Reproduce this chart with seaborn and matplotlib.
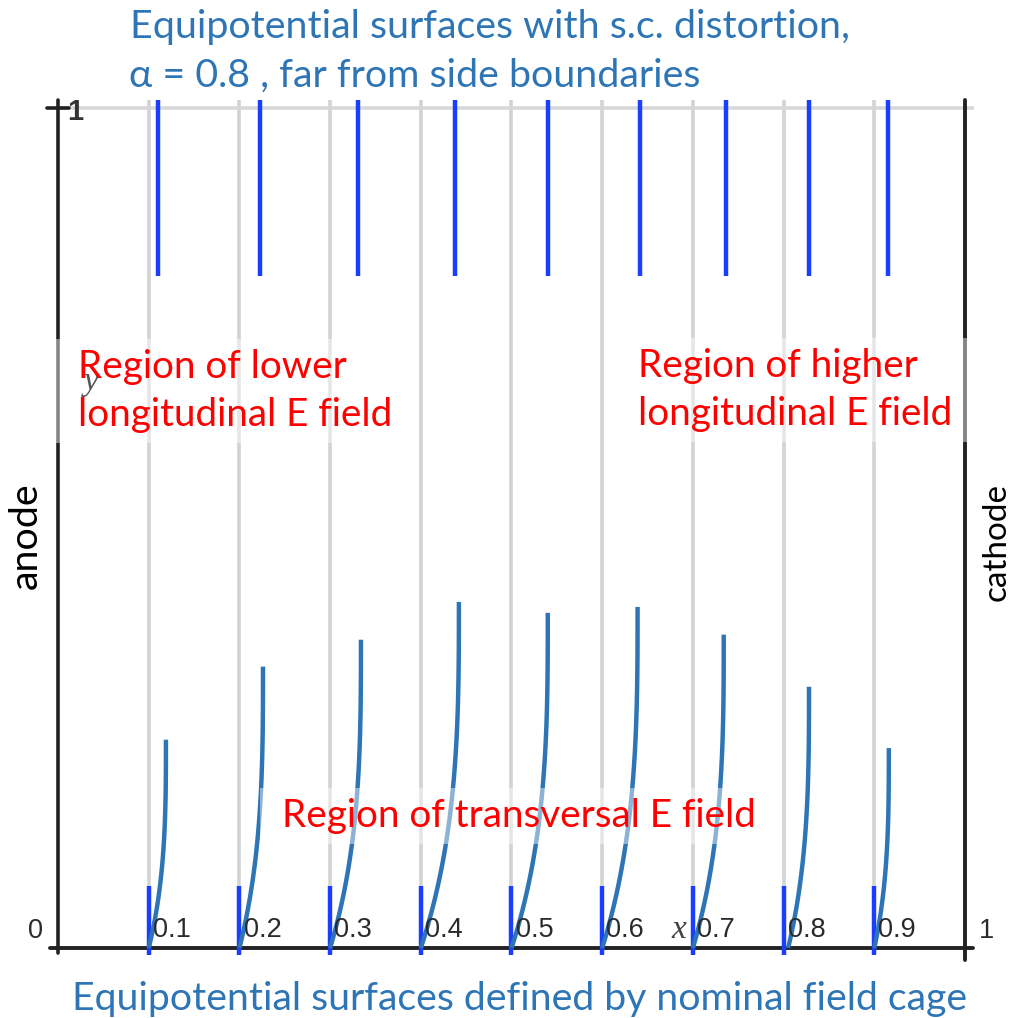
import numpy as np
import pandas as pd
import matplotlib
matplotlib.use("Agg")
import matplotlib.pyplot as plt
from matplotlib.patches import Rectangle
import seaborn as sns

# ---- data -------------------------------------------------------------
# nominal equipotential positions (field cage), drift coordinate x
nominal_x = [0.1, 0.2, 0.3, 0.4, 0.5, 0.6, 0.7, 0.8, 0.9]
nominal_tick_labels = ["0.1", "0.2", "0.3", "0.4", "0.5", "0.6", "0.7", "0.8", "0.9"]
# start of each distorted surface at y = 0
curve_start_x = [0.100, 0.200, 0.300, 0.400, 0.500, 0.600, 0.700, 0.805, 0.900]
# end point of each distorted surface (x, y)
curve_end_x = [0.119, 0.226, 0.334, 0.442, 0.540, 0.639, 0.734, 0.828, 0.916]
curve_end_y = [0.248, 0.335, 0.367, 0.412, 0.399, 0.406, 0.373, 0.311, 0.238]
# distorted surface positions far from the side boundaries (upper region)
distorted_x = [0.110, 0.223, 0.331, 0.438, 0.540, 0.642, 0.736, 0.828, 0.915]
upper_band = (0.80, 1.01)
lower_band = (-0.008, 0.074)

BLUE_BAR = "#1a3dff"
CURVE = "#2e75b6"
TITLE = "#2e75b6"
RED = "#ff0000"

W, H, DPI = 1012, 1018, 100

sns.set_theme(style="white")
plt.rcParams["font.family"] = ["Lato", "DejaVu Sans"]

fig = plt.figure(figsize=(W / DPI, H / DPI), dpi=DPI)
# data x 0..1 -> px 58..965, data y 0..1 -> px 948..108
ax = fig.add_axes([58 / W, (H - 948) / H, 907 / W, 840 / H])
ax.set_xlim(0, 1)
ax.set_ylim(0, 1)
ax.set_axis_off()

# grid
ax.vlines(nominal_x, 0, 1.01, color="#d3d3d3", lw=2.6, zorder=1, clip_on=False)
ax.hlines(1, 0, 1.01, color="#d8d8d8", lw=2.6, zorder=1, clip_on=False)

# frame lines: anode side and cathode side, bottom axis
ax.plot([0, 0], [-0.006, 1.01], color="#222222", lw=2.6, zorder=3, clip_on=False)
ax.plot([-0.012, 0.012], [1, 1], color="#222222", lw=2.6, zorder=3, clip_on=False)
ax.plot([1, 1], [-0.014, 1.01], color="#222222", lw=2.8, zorder=3, clip_on=False)
ax.plot([-0.009, 1.009], [0, 0], color="#222222", lw=2.8, zorder=3, clip_on=False)

# straight equipotential segments
ax.vlines(distorted_x, *upper_band, color=BLUE_BAR, lw=3.2, zorder=4, clip_on=False)
ax.vlines(nominal_x, *lower_band, color=BLUE_BAR, lw=3.2, zorder=4, clip_on=False)

# distorted surfaces near the bottom
t = np.linspace(0, 1, 80)
profile = 1 - (1 - t) ** 3
rows = []
for i, (x0, x1, y1) in enumerate(zip(curve_start_x, curve_end_x, curve_end_y)):
    for tt, pp in zip(t, profile):
        rows.append({"surface": i, "x": x0 + (x1 - x0) * pp, "y": y1 * tt})
curves = pd.DataFrame(rows)
sns.lineplot(data=curves, x="x", y="y", units="surface", estimator=None,
             sort=False, color=CURVE, lw=3.2, ax=ax, zorder=5, legend=False)
for ln in ax.lines[-len(curve_end_y):]:
    ln.set_clip_on(False)
    ln.set_solid_capstyle("butt")
ax.set_axis_off()

# tick labels on the axis
tick_font = dict(family=["Liberation Sans", "DejaVu Sans"], fontsize=19.5, color="#2a2a2a")
for xv, lab in zip(nominal_x, nominal_tick_labels):
    ax.annotate(lab, (xv, 0), xytext=(3, 8), textcoords="offset points",
                ha="left", va="baseline", zorder=6, **tick_font)
fig.text(28 / W, 1 - 938 / H, "0", ha="left", va="baseline", **tick_font)
fig.text(979 / W, 1 - 938 / H, "1", ha="left", va="baseline", **tick_font)
fig.text(67 / W, 1 - 120 / H, "1", ha="left", va="baseline",
         family=["Liberation Sans", "DejaVu Sans"], fontsize=21,
         color="#333333", fontweight="bold")
fig.text(671 / W, 1 - 938 / H, "x", ha="left", va="baseline",
         family=["Liberation Serif", "DejaVu Serif"], style="italic",
         fontsize=24, color="#444444")
fig.text(84 / W, 1 - 390 / H, "y", ha="left", va="baseline",
         family=["Liberation Serif", "DejaVu Serif"], style="italic",
         fontsize=24, color="#555555")

renderer = fig.canvas.get_renderer()


def fitted_size(text, width_px, family, size=20.0):
    probe = fig.text(0, 0, text, fontsize=size, family=family)
    w = probe.get_window_extent(renderer).width
    probe.remove()
    return size * width_px / w


def place(text, left, baseline, size, color, family=("Lato", "DejaVu Sans"), **kw):
    return fig.text(left / W, 1 - baseline / H, text, fontsize=size, color=color,
                    family=list(family), ha="left", va="baseline", zorder=4, **kw)


fam = ["Lato", "DejaVu Sans"]
# titles
s_title = fitted_size("Equipotential surfaces with s.c. distortion,", 722, fam)
place("Equipotential surfaces with s.c. distortion,", 130, 38, s_title, TITLE)
place("\u03b1 = 0.8 , far from side boundaries", 129, 87, s_title, TITLE)
s_bottom = fitted_size("Equipotential surfaces defined by nominal field cage", 898, fam)
place("Equipotential surfaces defined by nominal field cage", 72, 1010, s_bottom, TITLE)

# electrode labels
s_anode = fitted_size("anode", 107, fam)
fig.text(26 / W, 1 - 536 / H, "anode", rotation=90, fontsize=s_anode, family=fam,
         color="black", ha="center", va="center")
s_cath = fitted_size("cathode", 118, fam)
fig.text(997 / W, 1 - 542 / H, "cathode", rotation=90, fontsize=s_cath, family=fam,
         color="black", ha="center", va="center")

# region annotations with translucent white backing
s_red = fitted_size("Region of transversal E field", 475, fam)
region_blocks = [
    (["Region of lower", "longitudinal E field"], 78, [378, 426]),
    (["Region of higher", "longitudinal E field"], 638, [377, 425]),
    (["Region of transversal E field"], 282, [827]),
]
for lines, left, baselines in region_blocks:
    texts = [place(s, left, b, s_red, RED) for s, b in zip(lines, baselines)]
    boxes = [tx.get_window_extent(renderer) for tx in texts]
    x0 = min(b.x0 for b in boxes) - 22
    x1 = max(b.x1 for b in boxes) + 22
    y0 = min(b.y0 for b in boxes) - 10
    y1 = max(b.y1 for b in boxes) + 10
    fig.patches.append(Rectangle((x0 / W, y0 / H), (x1 - x0) / W, (y1 - y0) / H,
                                 transform=fig.transFigure, facecolor="white",
                                 edgecolor="none", alpha=0.45, zorder=2))

fig.savefig("out.png", dpi=DPI)
